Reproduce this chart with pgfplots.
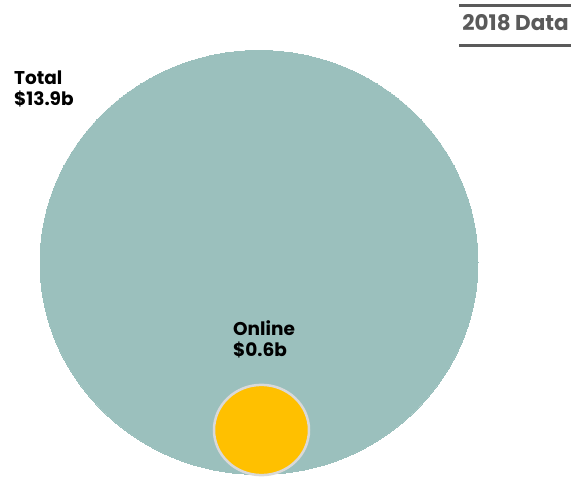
\documentclass[border=0pt]{standalone}
\usepackage{pgfplots}
\pgfplotsset{compat=1.18}
\usepackage{fontspec}
\setmainfont{Poppins}
\definecolor{teal1}{HTML}{9BC0BD}
\definecolor{gold1}{HTML}{FFC000}
\definecolor{ring}{HTML}{D9D9D9}
\definecolor{hdr}{HTML}{5A5A5A}
\begin{document}
\begin{tikzpicture}
\useasboundingbox (0,0) rectangle (571pt,479pt);
\begin{axis}[
  at={(0,0)}, anchor=south west,
  scale only axis, width=571pt, height=479pt,
  xmin=0, xmax=571, ymin=0, ymax=479, y dir=reverse,
  hide axis, clip=false,
]
% Total $13.9b
\addplot[teal1, only marks, mark=*, mark size=219pt,
  mark options={fill=teal1, draw=teal1, line width=0pt, yscale=0.968}] coordinates {(259,262.5)};
% Online $0.6b
\addplot[ring, only marks, mark=*, mark size=47.5pt,
  mark options={fill=gold1, draw=ring, line width=2.5pt, yscale=0.95}] coordinates {(261.5,430)};
% header rules
\addplot[hdr, line width=3pt] coordinates {(459,5) (571,5)};
\addplot[hdr, line width=3pt] coordinates {(459,45) (571,45)};
\coordinate (hd) at (axis cs:569,31);
\coordinate (t1) at (axis cs:14,85);
\coordinate (t2) at (axis cs:14,106);
\coordinate (o1) at (axis cs:233,336);
\coordinate (o2) at (axis cs:233,357);
\end{axis}
\node[anchor=base east, inner sep=0pt, text=hdr, font=\fontsize{21.5}{24}\selectfont\bfseries] at (hd) {2018 Data};
\node[anchor=base west, inner sep=0pt, font=\fontsize{18.5}{22}\selectfont\bfseries] at (t1) {Total};
\node[anchor=base west, inner sep=0pt, font=\fontsize{18.5}{22}\selectfont\bfseries] at (t2) {\$13.9b};
\node[anchor=base west, inner sep=0pt, font=\fontsize{18.5}{22}\selectfont\bfseries] at (o1) {Online};
\node[anchor=base west, inner sep=0pt, font=\fontsize{18.5}{22}\selectfont\bfseries] at (o2) {\$0.6b};
\end{tikzpicture}
\end{document}
